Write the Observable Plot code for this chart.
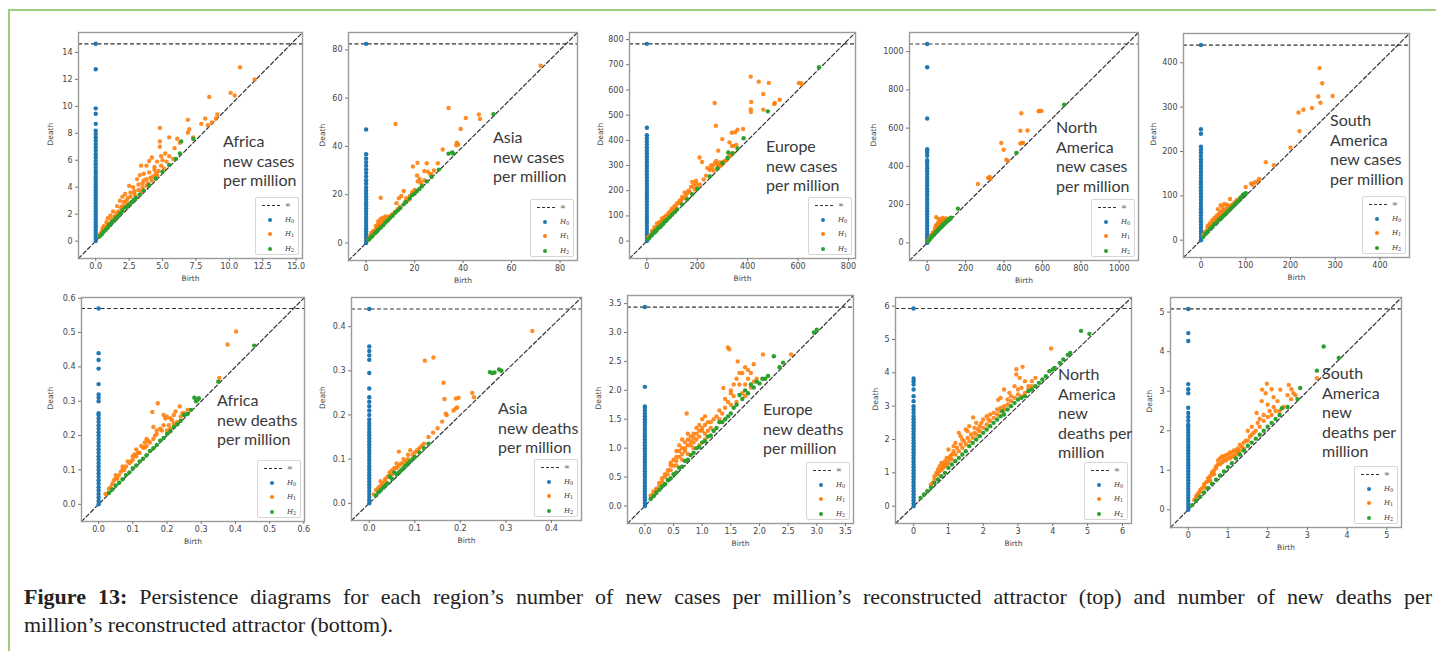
<!DOCTYPE html>
<html><head><meta charset="utf-8">
<script src="https://cdn.jsdelivr.net/npm/d3@7"></script>
<script src="https://cdn.jsdelivr.net/npm/@observablehq/plot@0.6"></script>
<style>
body{margin:0;background:#fff;}
#fig{position:relative;width:1436px;height:651px;overflow:hidden;background:#fff;}
#border{position:absolute;left:8px;top:9px;right:-10px;bottom:-10px;border-left:2px solid #9dcd80;border-top:2px solid #9dcd80;}
.ann{position:absolute;font-family:Lato;font-size:16px;line-height:19.5px;color:#3a3a3a;white-space:nowrap;}
.legend{position:absolute;width:44px;height:58px;background:#fff;border:1px solid #d6d6d6;border-radius:2px;box-sizing:border-box;font-family:"DejaVu Serif";font-size:7px;color:#333;}
.row{position:absolute;left:0;width:44px;height:10px;}
.dash{position:absolute;left:6px;top:5px;width:18px;border-top:1.3px dashed #333;}
.sw{position:absolute;left:12px;top:3px;width:4px;height:4px;border-radius:50%;}
.lab{position:absolute;left:29px;top:0;line-height:10px;font-style:italic;}
.lab sub{font-size:5px;vertical-align:-1px;font-style:normal;}
.cap{position:absolute;left:24px;width:1408px;font-family:"Liberation Serif";font-size:22px;line-height:28px;color:#222;}
</style></head>
<body><div id="fig"><div id="border"></div></div>
<script>
// ---- data ----
const annotations = [
  ["Africa","new cases","per million"],["Asia","new cases","per million"],["Europe","new cases","per million"],
  ["North","America","new cases","per million"],["South","America","new cases","per million"],
  ["Africa","new deaths","per million"],["Asia","new deaths","per million"],["Europe","new deaths","per million"],
  ["North","America","new","deaths per","million"],["South","America","new","deaths per","million"]
];
const domains = [[-1.29,15.48],[-7.27,87.2],[-69,828],[-92,1100],[-39,466],[-0.050,0.602],[-0.039,0.466],[-0.303,3.64],[-0.52,6.26],[-0.447,5.37]];
const infValues = [14.64,82.5,783,1040,440,0.570,0.440,3.44,5.93,5.08];
const xTicks = [[0,2.5,5,7.5,10,12.5,15],[0,20,40,60,80],[0,200,400,600,800],[0,200,400,600,800,1000],[0,100,200,300,400],
  [0,0.1,0.2,0.3,0.4,0.5,0.6],[0,0.1,0.2,0.3,0.4],[0,0.5,1,1.5,2,2.5,3,3.5],[0,1,2,3,4,5,6],[0,1,2,3,4,5]];
const yTicks = [[0,2,4,6,8,10,12,14],[0,20,40,60,80],[0,100,200,300,400,500,600,700,800],[0,200,400,600,800,1000],[0,100,200,300,400],
  [0,0.1,0.2,0.3,0.4,0.5,0.6],[0,0.1,0.2,0.3,0.4],[0,0.5,1,1.5,2,2.5,3,3.5],[0,1,2,3,4,5,6],[0,1,2,3,4,5]];
const xFormats = [".1f","d","d","d","d",".1f",".1f",".1f","d","d"];
const yFormats = ["d","d","d","d","d",".1f",".1f",".1f","d","d"];
const legendLabels = ["∞","H0","H1","H2"];
const caption1 = ["Figure 13:", " Persistence diagrams for each region’s number of new cases per million’s reconstructed attractor (top) and number of new deaths per"];
const caption2 = "million’s reconstructed attractor (bottom).";

const h0AfricaCases = [0,0.2,0.4,0.6,0.8,1,1.2,1.4,1.6,1.8,2,2.2,2.4,2.6,2.8,3,3.2,3.4,3.6,3.8,4,4.2,4.4,4.6,4.8,5,5.2,5.45,5.7,5.95,6.2,6.45,6.7,6.95,7.2,7.45,7.7,7.95,8.2,8.7,9.45,9.85,12.75,Infinity];
const h1AfricaCases = [[10.8,12.9],[11.9,12.0],[10.1,11.0],[10.4,10.8],[8.5,10.7],[9.1,9.4],[8.2,9.1],[6.9,9.0],[7.9,8.7],[8.7,8.8],[4.8,8.4],[7.0,8.3],[6.9,8.05],[5.5,7.7],[6.1,7.6],[4.8,7.4],[4.8,7.0],[5.2,6.5],[4.9,6.3],[4.2,6.2],[4.0,5.95],[4.6,5.9],[5.0,6.0],[3.4,5.6],[3.8,5.6],[4.4,5.5],[4.7,5.2],[3.3,4.9],[3.6,5.0],[4.0,5.1],[3.1,4.6],[3.6,4.5],[2.5,4.1],[2.8,4.0],[3.2,4.2],[2.2,3.5],[2.6,3.6],[2.0,3.3],[2.4,3.2],[1.8,3.0],[2.1,2.9],[1.6,2.6],[1.9,2.5],[1.3,2.2],[1.6,2.1],[1.1,1.9],[0.9,1.7],[1.2,1.6],[0.8,1.4],[0.6,1.1],[0.9,1.2],[0.5,0.9],[0.4,0.6],[0.3,0.5],[5.9,6.9],[6.3,7.3],[2.9,3.7],[3.5,4.0],[4.3,4.8],[5.5,6.3],[8.4,8.6],[9.0,9.1],[7.3,7.7],[5.8,6.1],[4.5,5.0],[3.9,4.3],[2.3,2.7],[1.4,1.8],[0.7,1.0],
  [0.5,0.7],[0.7,0.9],[1.0,1.3],[1.2,1.5],[1.5,1.9],[1.7,2.2],[2.0,2.6],[2.3,3.0],[2.6,3.3],[2.9,3.5],[3.2,3.8],[3.5,4.3],[3.8,4.6],[4.1,4.7],[4.4,5.3],[4.9,5.6],[5.3,5.9],[3.0,3.3],[3.4,3.7],[3.8,4.1],[4.2,4.5],[4.6,4.9],[5.1,5.4],[1.5,1.75],[2.0,2.25],[2.5,2.8]];
const h2AfricaCases = [[6.4,7.4],[7.3,7.6],[6.3,6.5],[2.7,2.9],[2.2,2.5],[1.8,2.0],[1.5,1.7],[1.2,1.4],[0.9,1.0],[0.6,0.7],[2.0,2.3],[2.5,2.7],[3.0,3.2],[1.0,1.2],
  [0.3,0.35],[0.45,0.5],[0.75,0.85],[1.1,1.2],[1.35,1.5],[1.65,1.8],[1.9,2.1],[2.35,2.55],[2.85,3.05],[3.3,3.45],[3.6,3.75],[4.0,4.15],[4.5,4.65],[5.0,5.15],[5.5,5.65],[6.0,6.1]];

const h0AsiaCases = [0,1.2,2.4,3.6,4.8,6,7.2,8.4,9.6,10.8,12,13.2,14.4,15.6,16.8,18,19.2,20.4,21.6,23,24.5,26,27.5,29,30.5,32,33.5,35,36.8,47,Infinity];
const h1AsiaCases = [[12.1,49.3],[34,55.9],[41.1,51.8],[46.5,53.2],[47,51.4],[39,47.2],[37.4,41.5],[37.2,40.5],[38,40.8],[31.6,38.7],[29.6,33],[21.2,33.2],[19.3,31.7],[25,33],[24,29.8],[21,28],[22,26.5],[21.3,25.5],[22.5,25],[25.5,29.5],[26.5,28.5],[27,27.5],[6,18.7],[15.5,21.5],[13.5,18.5],[14.5,19.5],[16.5,18.5],[18,19.5],[12.5,16.5],[17.5,17.8],[72,73.4],[5,9],[6,10],[7,10.5],[8,11],[8.5,10],[9,10.5],[4,7],[5,8],[3,5],[2,4],[6,7.5],[7,8],[10,10.5],[9,9.5],[3,3.5],[1,1.5],[4,5.5],[11,12],[12,13],
  [1.5,2.5],[2.5,3.5],[3.5,5],[4.5,6.5],[5.5,7],[6.5,9],[7.5,9.5],[8,10.3],[9.5,11],[10.5,11.5],[3,4.5],[4.5,5],[6,6.8],[7.5,8.2],[8.5,9.2],[13,14],[14,15],[16,17],[18,18.8],[19,21],[20,22],[23,24],[24,26],[27,28.5],[28,30]];
const h2AsiaCases = [[52.5,53.4],[34,37],[35.5,37.5],[36,37],[19,19.8],[15.5,16],[3.5,4],[2,2.5],[5,5.5],[8,8.5],[10,10.5],[1,1.3],[21,21.5],[23,23.5],[12,12.5],[6,6.3],
  [1.5,1.8],[2.5,2.8],[4,4.3],[4.5,4.9],[7,7.3],[9,9.4],[11,11.4],[13,13.4],[14,14.4],[16.5,17],[18,18.4],[20,20.5],[22,22.4],[25,25.5],[27,27.4],[30,30.4]];

const h0EuropeCases = [0,12,24,36,48,60,72,84,96,108,120,132,144,156,168,180,192,204,216,228,240,252,264,276,288,300,312,324,336,348,360,372,384,396,408,420,450,Infinity];
const h1EuropeCases = [[412,653],[444,633],[484,628],[269,548],[414,552],[462,584],[412,523],[413,512],[462,522],[505,544],[508,548],[527,561],[603,628],[612,627],[615,622],[274,458],[299,405],[337,430],[350,432],[360,442],[382,445],[328,392],[338,378],[345,378],[355,382],[283,359],[209,332],[219,314],[250,282],[258,288],[262,300],[270,310],[275,318],[280,305],[285,296],[290,312],[295,302],[300,306],[310,318],[318,325],[325,335],[335,343],[340,350],[180,235],[195,230],[175,215],[165,200],[150,193],[190,205],[200,215],[140,175],[130,160],[120,150],[110,140],[100,130],[90,115],[60,90],[65,80],[50,75],[40,70],[30,55],[20,40],[80,100],[70,95],[45,60],[10,20],[25,35],
  [5,15],[15,25],[25,40],[35,50],[45,65],[55,75],[60,80],[70,85],[75,100],[85,110],[95,120],[105,125],[115,135],[125,150],[135,160],[145,170],[155,180],[160,190],[170,195],[185,220],[195,240],[210,225],[225,245],[235,260],[240,290],[255,300],[265,280],[280,290],[290,300],[305,315]];
const h2EuropeCases = [[683,690],[480,515],[384,408],[323,352],[320,330],[300,310],[25,32],[40,45],[60,65],[70,78],[15,20],[5,8],[50,55],[100,105],[33,40],[45,52],
  [10,13],[20,24],[30,34],[35,38],[55,58],[65,69],[75,80],[80,85],[90,95],[110,115],[120,126],[140,146],[160,166],[180,186],[200,207],[250,257],[280,288],[340,348],[360,368]];

const h0NACases = [0,15,30,45,60,75,90,105,120,135,150,165,180,195,210,225,240,255,270,285,300,315,330,345,360,375,390,405,420,432,455,470,480,490,650,918,Infinity];
const h1NACases = [[490,678],[586,690],[595,690],[580,688],[485,586],[522,588],[485,520],[495,523],[499,522],[386,522],[398,487],[412,435],[420,430],[264,308],[317,339],[325,345],[330,336],[47,134],[60,125],[70,110],[80,120],[90,105],[100,115],[110,125],[75,95],[60,85],[50,70],[40,60],[30,45],[20,30],[85,100],[95,110],[65,100],[45,90],[55,100],[35,55],[10,20],[120,128],
  [5,10],[15,25],[25,40],[35,50],[45,65],[55,80],[65,90],[75,105],[85,115],[95,120],[105,118],[115,125],[40,75],[50,95],[60,110],[70,120],[80,130],[30,55],[20,40],[90,125],[100,128]];
const h2NACases = [[713,722],[464,470],[160,179],[120,128],[100,112],[80,95],[70,82],[60,72],[50,62],[40,50],[30,40],[20,28],[10,15],[90,102],[110,120],
  [5,8],[15,20],[25,32],[35,42],[45,55],[55,65],[65,75],[75,85],[85,95],[95,105],[105,115],[115,122],[125,132]];

const h0SACases = [0,7,14,21,28,35,42,49,56,63,70,77,84,91,98,105,112,119,126,133,140,147,154,161,168,175,182,190,197,204,211,240,250,Infinity];
const h1SACases = [[265,388],[271,354],[294,325],[262,324],[267,310],[248,298],[229,294],[218,288],[220,246],[200,209],[145,176],[163,169],[100,120],[115,125],[120,130],[125,132],[130,138],[112,128],[65,93],[44,79],[52,82],[55,70],[60,78],[70,80],[75,85],[50,68],[40,60],[35,55],[30,50],[25,45],[20,35],[15,28],[10,20],[45,65],[60,70],[80,88],[85,92],[38,70],[28,40],[5,10],
  [5,12],[10,18],[15,22],[20,30],[25,38],[30,42],[35,48],[40,52],[45,58],[50,62],[55,65],[60,72],[65,78],[70,78],[75,82],[80,90],[90,98],[30,45],[40,55],[20,38],[15,32],[48,75],[58,80]];
const h2SACases = [[95,103],[100,105],[94,102],[80,85],[70,75],[60,65],[50,55],[40,46],[30,36],[20,25],[10,14],[88,95],
  [5,7],[15,19],[25,30],[35,40],[45,50],[55,60],[65,70],[75,80],[85,90],[90,96],[100,106]];

const h0AfricaDeaths = [0,.01,.02,.03,.04,.05,.06,.07,.08,.09,.1,.11,.12,.13,.14,.15,.16,.17,.18,.19,.2,.21,.22,.23,.24,.25,.26,.265,.3,.31,.32,.35,.395,.42,.44,Infinity];
const h1AfricaDeaths = [[0.402,0.503],[0.377,0.465],[0.353,0.368],[0.173,0.294],[0.157,0.269],[0.19,0.26],[0.2,0.255],[0.225,0.27],[0.237,0.285],[0.22,0.26],[0.16,0.225],[0.18,0.22],[0.19,0.23],[0.2,0.215],[0.21,0.22],[0.22,0.235],[0.23,0.24],[0.17,0.205],[0.16,0.19],[0.15,0.18],[0.14,0.17],[0.13,0.165],[0.12,0.15],[0.11,0.14],[0.1,0.13],[0.09,0.12],[0.08,0.11],[0.07,0.1],[0.06,0.085],[0.05,0.075],[0.04,0.06],[0.03,0.045],[0.02,0.03],[0.125,0.17],[0.135,0.18],[0.105,0.145],[0.085,0.125],[0.065,0.095],[0.045,0.07],[0.24,0.255],[0.25,0.265],[0.26,0.275],
  [0.035,0.05],[0.055,0.075],[0.075,0.1],[0.095,0.125],[0.115,0.15],[0.135,0.165],[0.145,0.185],[0.165,0.2],[0.185,0.215],[0.205,0.23],[0.215,0.245],[0.245,0.265],[0.11,0.16],[0.1,0.14],[0.07,0.11],[0.05,0.085],[0.14,0.19],[0.17,0.215],[0.195,0.25],[0.21,0.25]];
const h2AfricaDeaths = [[0.28,0.31],[0.285,0.3],[0.29,0.305],[0.293,0.309],[0.35,0.357],[0.455,0.462],[0.25,0.26],[0.2,0.205],[0.15,0.155],[0.1,0.105],[0.05,0.055],[0.12,0.125],[0.08,0.085],[0.18,0.185],[0.22,0.225],[0.27,0.275],[0.03,0.033],
  [0.04,0.043],[0.06,0.063],[0.07,0.073],[0.09,0.093],[0.11,0.113],[0.13,0.133],[0.14,0.143],[0.16,0.163],[0.17,0.173],[0.19,0.193],[0.21,0.213],[0.23,0.233],[0.24,0.243],[0.26,0.263]];

const h0AsiaDeaths = [0,.007,.014,.021,.028,.035,.042,.049,.056,.063,.07,.077,.084,.091,.098,.105,.112,.119,.126,.133,.14,.147,.154,.161,.168,.175,.182,.19,.2,.21,.22,.23,.24,.26,.295,.325,.335,.345,.355,Infinity];
const h1AsiaDeaths = [[0.358,0.39],[0.122,0.323],[0.141,0.33],[0.163,0.273],[0.165,0.236],[0.19,0.237],[0.196,0.239],[0.185,0.21],[0.19,0.215],[0.193,0.217],[0.17,0.2],[0.168,0.203],[0.16,0.185],[0.226,0.25],[0.23,0.24],[0.15,0.17],[0.14,0.16],[0.13,0.15],[0.12,0.135],[0.115,0.13],[0.065,0.117],[0.09,0.12],[0.085,0.11],[0.1,0.115],[0.105,0.12],[0.075,0.1],[0.06,0.09],[0.05,0.075],[0.04,0.06],[0.035,0.055],[0.03,0.045],[0.02,0.035],[0.01,0.02],[0.025,0.05],[0.045,0.07],[0.055,0.08],[0.07,0.09],[0.08,0.095],[0.11,0.125],
  [0.015,0.03],[0.025,0.04],[0.035,0.05],[0.045,0.065],[0.05,0.065],[0.06,0.08],[0.065,0.085],[0.075,0.09],[0.085,0.1],[0.095,0.11]];
const h2AsiaDeaths = [[0.265,0.297],[0.27,0.295],[0.275,0.296],[0.285,0.303],[0.29,0.3],[0.07,0.075],[0.06,0.065],[0.05,0.055],[0.04,0.045],[0.03,0.035],[0.08,0.085],[0.09,0.095],[0.1,0.105],[0.02,0.025],[0.045,0.06],[0.055,0.07],
  [0.015,0.018],[0.025,0.03],[0.035,0.04],[0.065,0.07],[0.075,0.08],[0.085,0.09],[0.095,0.1],[0.11,0.115],[0.12,0.125],[0.13,0.135]];

const h0EuropeDeaths = [0,.05,.1,.15,.2,.25,.3,.35,.4,.45,.5,.55,.6,.65,.7,.75,.8,.85,.9,.95,1,1.05,1.1,1.15,1.2,1.25,1.3,1.35,1.4,1.45,1.5,1.55,1.6,1.65,1.7,1.72,2.06,Infinity];
const h1EuropeDeaths = [[1.45,2.74],[1.47,2.71],[2.06,2.62],[2.55,2.62],[0.73,1.6],[1.37,2.04],[1.5,2.0],[1.6,2.2],[1.7,2.3],[1.75,2.4],[1.62,2.5],[1.85,2.3],[1.9,2.45],[1.8,2.2],[1.95,2.2],[1.55,1.9],[1.7,1.95],[1.65,2.1],[1.45,1.8],[1.4,1.7],[1.3,1.65],[1.5,1.75],[1.6,1.8],[1.75,1.9],[1.85,2.05],[1.9,2.15],[1.05,1.55],[1.0,1.5],[1.1,1.45],[0.95,1.4],[0.9,1.35],[1.15,1.35],[1.2,1.5],[0.85,1.25],[0.8,1.2],[0.75,1.15],[0.7,1.1],[0.65,1.0],[0.6,0.95],[0.55,0.85],[0.5,0.8],[0.45,0.7],[0.4,0.62],[0.35,0.55],[0.3,0.48],[0.25,0.4],[0.2,0.3],[0.15,0.25],[0.1,0.18],[0.65,1.15],[0.75,1.25],[0.85,1.1],[0.95,1.2],[1.0,1.3],[1.05,1.25],[1.2,1.3],[0.55,0.95],[0.45,0.75],[0.6,1.05],[0.7,0.95],[0.8,1.05],[0.9,1.15],
  [0.15,0.2],[0.2,0.28],[0.25,0.35],[0.3,0.42],[0.35,0.5],[0.4,0.55],[0.45,0.62],[0.5,0.7],[0.55,0.78],[0.6,0.85],[0.65,0.9],[0.7,1.0],[0.75,1.05],[0.8,1.12],[0.85,1.18],[0.9,1.25],[0.95,1.3],[1.0,1.35],[1.05,1.4],[1.1,1.3],[1.15,1.45],[1.25,1.55],[1.3,1.5],[1.35,1.6],[1.4,1.85],[1.5,1.95],[1.55,2.1],[1.65,2.3],[1.75,2.1],[1.8,2.35],[0.55,0.7],[0.65,0.8],[0.75,0.9],[0.85,1.0],[0.95,1.05],[1.05,1.15]];
const h2EuropeDeaths = [[2.95,3.0],[3.0,3.05],[2.25,2.59],[2.35,2.4],[2.41,2.48],[2.05,2.2],[1.95,2.15],[1.75,2.0],[1.7,1.85],[1.6,1.75],[1.5,1.6],[1.4,1.5],[1.3,1.45],[1.2,1.3],[1.1,1.2],[1.0,1.1],[0.9,1.0],[0.8,0.88],[0.7,0.78],[0.6,0.66],[0.5,0.55],[0.4,0.45],[0.3,0.34],[0.2,0.23],[1.65,1.92],[1.85,2.1],[1.55,1.7],
  [0.1,0.12],[0.15,0.17],[0.25,0.28],[0.35,0.38],[0.45,0.48],[0.55,0.58],[0.65,0.68],[0.75,0.8],[0.85,0.92],[0.95,1.02],[1.05,1.12],[1.15,1.22],[1.25,1.35],[1.35,1.45],[1.45,1.55],[1.8,1.95],[1.9,2.05],[2.0,2.12],[2.1,2.2],[2.15,2.25]];

const h0NADeaths = [0,.09,.18,.27,.36,.45,.54,.63,.72,.81,.9,.99,1.08,1.17,1.26,1.35,1.44,1.53,1.62,1.71,1.8,1.89,1.98,2.07,2.16,2.25,2.34,2.43,2.52,2.61,2.7,2.8,2.9,3,3.15,3.3,3.5,3.65,3.75,3.83,Infinity];
const h1NADeaths = [[3.95,4.73],[2.95,4.11],[3.13,4.18],[2.95,3.95],[3.05,3.85],[3.2,3.75],[3.4,3.75],[3.5,3.85],[2.6,3.5],[2.75,3.4],[2.9,3.6],[3.1,3.55],[3.3,3.6],[2.5,3.25],[2.7,3.2],[2.8,3.3],[3.0,3.35],[3.2,3.4],[2.43,3.19],[1.71,2.66],[1.3,2.2],[1.5,2.3],[1.6,2.4],[1.8,2.5],[2.0,2.6],[2.1,2.7],[2.2,2.75],[1.9,2.4],[1.4,2.0],[1.2,1.9],[1.0,1.7],[0.9,1.35],[0.8,1.3],[1.0,1.4],[1.1,1.55],[1.25,1.75],[1.35,1.85],[1.45,1.95],[1.55,2.05],[1.65,2.15],[1.75,2.2],[1.85,2.3],[0.7,1.1],[0.6,0.9],[0.65,1.0],[0.75,1.2],[0.85,1.15],[0.95,1.25],[1.05,1.5],[1.15,1.65],[2.3,2.8],[2.4,2.9],[2.5,2.95],[2.6,3.0],[0.4,0.45],[0.55,0.7],
  [0.5,0.65],[0.6,0.8],[0.7,0.95],[0.8,1.1],[0.9,1.2],[1.0,1.3],[1.1,1.4],[1.2,1.55],[1.3,1.65],[1.4,1.75],[1.5,1.85],[1.6,1.95],[1.7,2.05],[1.8,2.15],[1.9,2.25],[2.0,2.35],[2.1,2.45],[2.2,2.55],[2.3,2.65],[2.4,2.75],[2.5,2.85],[2.6,2.9],[2.7,3.05],[2.8,3.15],[2.9,3.25],[3.0,3.5],[3.1,3.3],[3.3,3.5],[3.4,3.6],[0.75,1.05],[0.85,1.25],[0.95,1.45],[1.15,1.8],[1.35,2.1],[1.55,2.25],[1.75,2.35],[1.95,2.5],[2.15,2.6]];
const h2NADeaths = [[4.81,5.26],[5.05,5.17],[4.43,4.54],[4.3,4.4],[3.9,4.05],[4.0,4.1],[4.05,4.15],[3.5,3.6],[3.2,3.3],[3.0,3.2],[2.8,3.0],[2.6,2.75],[2.4,2.6],[2.2,2.4],[2.0,2.2],[1.8,2.0],[1.6,1.8],[1.4,1.55],[1.2,1.35],[1.0,1.15],[0.8,0.9],[0.6,0.7],[0.4,0.45],[0.2,0.25],[2.55,2.85],[3.4,3.5],
  [0.3,0.35],[0.5,0.56],[0.7,0.8],[0.9,1.0],[1.1,1.25],[1.3,1.45],[1.5,1.65],[1.7,1.9],[1.9,2.1],[2.1,2.3],[2.3,2.5],[2.5,2.7],[2.7,2.9],[2.9,3.1],[3.1,3.25],[3.3,3.45],[3.6,3.7],[3.7,3.8],[3.8,3.9],[4.2,4.3],[4.5,4.6]];

const h0SADeaths = [0,.075,.15,.225,.3,.375,.45,.525,.6,.675,.75,.825,.9,.975,1.05,1.125,1.2,1.275,1.35,1.425,1.5,1.575,1.65,1.725,1.8,1.875,1.95,2.025,2.1,2.15,2.25,2.35,2.45,2.58,2.95,3.05,3.18,4.27,4.47,Infinity];
const h1SADeaths = [[1.98,3.19],[1.86,3.04],[1.95,2.95],[2.1,3.05],[2.32,3.04],[2.53,3.16],[2.6,3.05],[2.65,2.95],[2.5,2.9],[2.59,2.8],[2.15,2.85],[2.25,2.75],[1.85,2.75],[2.0,2.66],[1.72,2.45],[1.75,2.2],[1.9,2.25],[2.0,2.35],[2.1,2.4],[2.2,2.5],[1.6,2.1],[1.5,2.0],[1.8,2.1],[1.45,1.75],[1.3,1.65],[1.4,1.55],[1.2,1.5],[1.1,1.45],[1.0,1.4],[0.9,1.35],[0.8,1.3],[0.85,1.2],[0.75,1.15],[0.7,1.05],[0.6,0.9],[0.5,0.8],[0.4,0.65],[0.3,0.5],[0.25,0.42],[0.2,0.35],[0.15,0.25],[0.95,1.25],[1.05,1.3],[1.15,1.35],[1.25,1.45],[0.65,1.0],[0.55,0.75],[0.45,0.55],[1.6,1.9],[2.4,2.6],[2.7,2.9],[3.24,3.33],
  [0.2,0.3],[0.25,0.35],[0.3,0.45],[0.35,0.55],[0.4,0.6],[0.45,0.7],[0.5,0.72],[0.55,0.85],[0.6,0.95],[0.65,0.9],[0.7,1.1],[0.75,1.25],[0.8,1.15],[0.85,1.35],[0.9,1.25],[0.95,1.38],[1.0,1.3],[1.05,1.45],[1.1,1.35],[1.15,1.5],[1.2,1.4],[1.25,1.55],[1.3,1.5],[1.35,1.6],[1.4,1.7],[1.5,1.75],[1.55,1.85],[1.65,1.95],[1.7,2.0],[1.8,2.3],[1.9,2.4],[2.05,2.5],[2.15,2.6],[2.3,2.5]];
const h2SADeaths = [[3.41,4.13],[3.24,3.52],[3.79,3.84],[2.82,3.08],[2.36,2.57],[2.75,2.8],[2.0,2.1],[1.8,1.9],[1.6,1.7],[1.4,1.5],[1.2,1.3],[1.0,1.08],[0.8,0.87],[0.6,0.66],[0.4,0.44],[0.2,0.23],[1.5,1.62],[2.2,2.3],
  [0.1,0.12],[0.3,0.33],[0.5,0.55],[0.7,0.76],[0.9,0.97],[1.1,1.18],[1.3,1.4],[1.7,1.8],[1.9,2.0],[2.1,2.2],[2.3,2.4],[2.5,2.6]];

const h0Sets = [h0AfricaCases,h0AsiaCases,h0EuropeCases,h0NACases,h0SACases,h0AfricaDeaths,h0AsiaDeaths,h0EuropeDeaths,h0NADeaths,h0SADeaths];
const h1Sets = [h1AfricaCases,h1AsiaCases,h1EuropeCases,h1NACases,h1SACases,h1AfricaDeaths,h1AsiaDeaths,h1EuropeDeaths,h1NADeaths,h1SADeaths];
const h2Sets = [h2AfricaCases,h2AsiaCases,h2EuropeCases,h2NACases,h2SACases,h2AfricaDeaths,h2AsiaDeaths,h2EuropeDeaths,h2NADeaths,h2SADeaths];

// ---- layout (page pixels) ----
const frames = [[78,32,224,226],[348,32,229,228],[629,32,226,226],[909,32,229,228],[1183,33,226,224],
                [81,297,223,224],[351,297,230,223],[627,295,226,228],[895,297,236,226],[1170,297,231,230]];
const deathDx = [-28,-26,-29,-36,-30,-31,-29,-29,-20,-21];
const annPos = [[223,147],[493,143],[766,152],[1056,133],[1330,126],[217,406],[498,414],[763,415],[1058,380],[1322,379]];
const colors = ["#1f77b4","#ff7f0e","#2ca02c"];

const fig = document.getElementById("fig");
const ml = 46, mt = 8, mr = 12, mb = 34;
const dash = {stroke:"#333", strokeWidth:1.2, strokeDasharray:"4,2.5"};
for (let i = 0; i < 10; i++) {
  const [fl, ft, fw, fh] = frames[i];
  const [lo, hi] = domains[i];
  const inf = infValues[i];
  const svg = Plot.plot({
    width: fw + ml + mr, height: fh + mt + mb,
    marginLeft: ml, marginTop: mt, marginRight: mr, marginBottom: mb,
    x: {domain: [lo, hi]}, y: {domain: [lo, hi]},
    style: {background: "transparent", color: "#444", fontFamily: "DejaVu Sans", fontSize: "8px", overflow: "visible"},
    marks: [
      Plot.line([[lo, lo], [hi, hi]], {x: d => d[0], y: d => d[1], ...dash}),
      Plot.ruleY([inf], dash),
      Plot.dot(h0Sets[i], {x: () => 0, y: d => Number.isFinite(d) ? d : inf, r: 2.2, fill: colors[0]}),
      Plot.dot(h1Sets[i], {x: d => d[0], y: d => d[1], r: 2.2, fill: colors[1], fillOpacity: 0.9}),
      Plot.dot(h2Sets[i], {x: d => d[0], y: d => d[1], r: 2.2, fill: colors[2]}),
      Plot.frame({stroke: "#9a9a9a", strokeWidth: 1.4}),
      Plot.axisX({ticks: xTicks[i], tickFormat: d3.format(xFormats[i]), tickSize: 3, tickPadding: 2, label: null, stroke: "#777"}),
      Plot.axisY({ticks: yTicks[i], tickFormat: d3.format(yFormats[i]), tickSize: 3, tickPadding: 3, label: null, stroke: "#777"}),
      Plot.text(["Birth"], {frameAnchor: "bottom", dy: 22, text: d => d, fontSize: 7.5}),
      Plot.text(["Death"], {frameAnchor: "left", dx: deathDx[i], rotate: -90, text: d => d, fontSize: 7.5})
    ]
  });
  svg.style.position = "absolute";
  svg.style.left = (fl - ml) + "px";
  svg.style.top = (ft - mt) + "px";
  fig.appendChild(svg);

  // legend box (lower right inside frame)
  const lg = document.createElement("div");
  lg.className = "legend";
  lg.style.left = (fl + fw - 3 - 44) + "px";
  lg.style.top = (ft + fh - 3 - 58) + "px";
  legendLabels.forEach((t, k) => {
    const row = document.createElement("div");
    row.className = "row";
    row.style.top = (2 + k * 14.5) + "px";
    const sw = document.createElement("div");
    if (k === 0) sw.className = "dash";
    else { sw.className = "sw"; sw.style.background = colors[k - 1]; }
    row.appendChild(sw);
    const lab = document.createElement("div");
    lab.className = "lab";
    if (k === 0) { lab.textContent = t; lab.style.fontStyle = "normal"; }
    else lab.innerHTML = "H<sub>" + t.slice(1) + "</sub>";
    row.appendChild(lab);
    lg.appendChild(row);
  });
  fig.appendChild(lg);

  const an = document.createElement("div");
  an.className = "ann";
  an.style.left = annPos[i][0] + "px";
  an.style.top = (annPos[i][1] - 16) + "px";
  an.innerHTML = annotations[i].join("<br>");
  fig.appendChild(an);
}

const c1 = document.createElement("div");
c1.className = "cap";
c1.style.top = "583px";
c1.style.textAlign = "justify";
c1.style.textAlignLast = "justify";
const b = document.createElement("b"); b.textContent = caption1[0];
c1.appendChild(b); c1.appendChild(document.createTextNode(caption1[1]));
fig.appendChild(c1);
const c2 = document.createElement("div");
c2.className = "cap";
c2.style.top = "611px";
c2.textContent = caption2;
fig.appendChild(c2);
</script></body></html>
